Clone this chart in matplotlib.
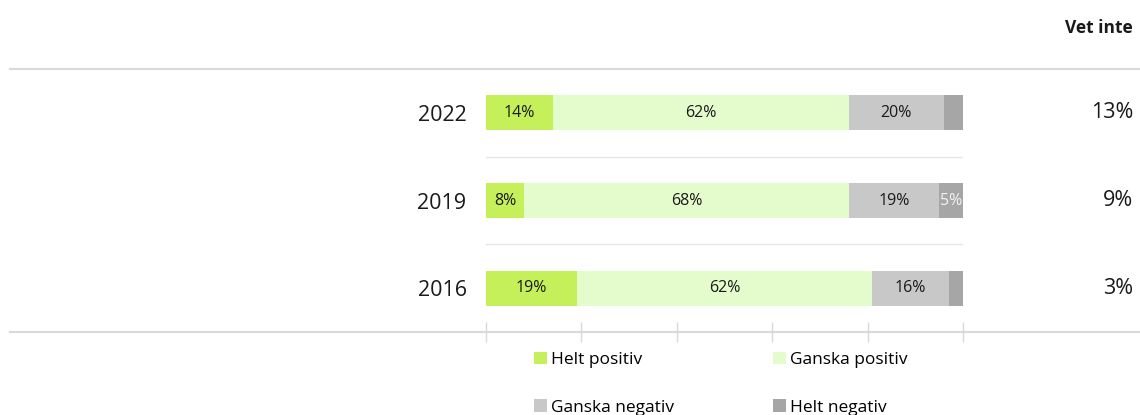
import matplotlib.pyplot as plt
import numpy as np
from matplotlib.patches import Patch

plt.rcParams['font.family'] = ['Open Sans', 'DejaVu Sans']

# data
years = ['2022', '2019', '2016']
helt_positiv = [14, 8, 19]
ganska_positiv = [62, 68, 62]
ganska_negativ = [20, 19, 16]
helt_negativ = [4, 5, 3]
vet_inte = [13, 9, 3]

series = [helt_positiv, ganska_positiv, ganska_negativ, helt_negativ]
names = ['Helt positiv', 'Ganska positiv', 'Ganska negativ', 'Helt negativ']
colors = ['#c5f05a', '#e4fccc', '#c8c8c8', '#a6a6a6']
label_colors = ['#1a1a1a', '#1a1a1a', '#1a1a1a', '#f2f2f2']

W, H = 1140, 415
fig = plt.figure(figsize=(W / 100, H / 100), dpi=100)
# axes spans the bar area: x 486..963 px, y 69..332 px
ax = fig.add_axes([486 / W, (H - 332) / H, (963 - 486) / W, (332 - 69) / H])

y = np.arange(len(years))
left = np.zeros(len(years))
for vals, name, col, lcol in zip(series, names, colors, label_colors):
    vals = np.array(vals, dtype=float)
    ax.barh(y, vals, left=left, height=0.4, color=col, edgecolor='none', label=name, zorder=2)
    for yi, (l, v) in enumerate(zip(left, vals)):
        if v >= 5:
            ax.text(l + v / 2, yi, f'{int(v)}%', ha='center', va='center',
                    fontsize=11.5, color=lcol, zorder=3)
    left += vals

ax.set_xlim(0, 100)
ax.set_ylim(2.5, -0.5)

# separators between rows
for sep in [0.5, 1.5]:
    ax.axhline(sep, color='#e6e6e6', lw=1, zorder=1)
# full-width top and bottom rules
x0 = (10 - 486) / (963 - 486)
x1 = (1140 - 486) / (963 - 486)
ax.axhline(-0.5, xmin=x0, xmax=x1, color='#d9d9d9', lw=1.5, clip_on=False)
ax.axhline(2.5, xmin=x0, xmax=x1, color='#d9d9d9', lw=1.5, clip_on=False)

for s in ax.spines.values():
    s.set_visible(False)

ax.set_xticks(np.arange(0, 101, 20))
ax.set_xticklabels([])
ax.tick_params(axis='x', direction='inout', length=14, width=1, color='#dadada')
ax.set_yticks(y)
ax.set_yticklabels(years, fontsize=15.5, color='#1a1a1a')
ax.tick_params(axis='y', length=0, pad=14)

# "Vet inte" column
xr = (1133 - 486) / (963 - 486) * 100
for yi, v in enumerate(vet_inte):
    ax.text(xr, yi, f'{v}%', ha='right', va='center', fontsize=15.5,
            color='#1a1a1a', clip_on=False)
fig.text(1133 / W, 1 - 28 / H, 'Vet inte', ha='right', va='center',
         fontsize=12.5, fontweight='bold', color='#1a1a1a')

# legend filled row by row
order = [0, 2, 1, 3]
handles = [Patch(facecolor=colors[i], edgecolor='none') for i in order]
labels = [names[i] for i in order]
fig.legend(handles, labels, loc='upper left', bbox_to_anchor=(518 / W, 1 - 336 / H),
           ncol=2, frameon=False, fontsize=12.5, handlelength=0.75, handleheight=0.75,
           handletextpad=0.25, columnspacing=5.7, labelspacing=1.8)

fig.savefig('out.png', dpi=100, facecolor='white')
